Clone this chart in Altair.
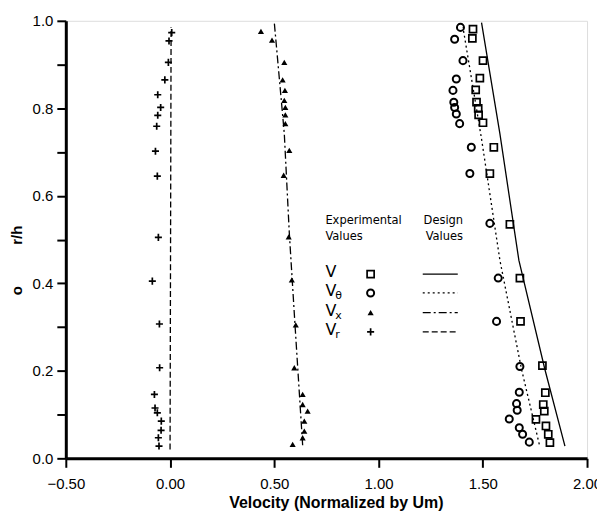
import altair as alt
import pandas as pd

# ---- Experimental values (velocity, r/h) ----
vr_v = [0.008, -0.005, -0.008, -0.025, -0.059, -0.045, -0.059, -0.064, -0.070, -0.061, -0.056,
        -0.085, -0.051, -0.050, -0.075, -0.072, -0.061, -0.042, -0.043, -0.056, -0.053]
vr_r = [0.973, 0.954, 0.905, 0.865, 0.831, 0.802, 0.784, 0.759, 0.702, 0.645, 0.505,
        0.405, 0.307, 0.207, 0.146, 0.115, 0.104, 0.085, 0.064, 0.047, 0.028]

vx_v = [0.436, 0.489, 0.548, 0.540, 0.551, 0.548, 0.553, 0.553, 0.553, 0.572, 0.545, 0.569,
        0.584, 0.603, 0.596, 0.636, 0.636, 0.660, 0.644, 0.644, 0.636, 0.588]
vx_r = [0.976, 0.956, 0.905, 0.865, 0.841, 0.818, 0.802, 0.785, 0.765, 0.704, 0.647, 0.506,
        0.408, 0.305, 0.207, 0.146, 0.123, 0.108, 0.085, 0.062, 0.047, 0.032]

vt_v = [1.393, 1.365, 1.405, 1.373, 1.357, 1.361, 1.365, 1.373, 1.389, 1.445, 1.438, 1.534,
        1.574, 1.566, 1.678, 1.675, 1.662, 1.665, 1.627, 1.675, 1.691, 1.723]
vt_r = [0.985, 0.958, 0.909, 0.867, 0.841, 0.814, 0.802, 0.787, 0.765, 0.711, 0.651, 0.537,
        0.412, 0.313, 0.210, 0.151, 0.125, 0.110, 0.090, 0.070, 0.055, 0.037]

v_v = [1.453, 1.450, 1.501, 1.486, 1.466, 1.470, 1.478, 1.480, 1.501, 1.553, 1.534, 1.630,
       1.678, 1.681, 1.786, 1.800, 1.790, 1.795, 1.755, 1.803, 1.814, 1.822]
v_r = [0.981, 0.960, 0.909, 0.869, 0.842, 0.814, 0.800, 0.785, 0.767, 0.711, 0.651, 0.535,
       0.412, 0.313, 0.212, 0.150, 0.123, 0.108, 0.089, 0.074, 0.055, 0.036]

# ---- Design values (lines) ----
dv_v = [1.494, 1.582, 1.673, 1.798, 1.894]
dv_r = [0.996, 0.742, 0.453, 0.203, 0.028]
dt_v = [1.405, 1.495, 1.582, 1.686, 1.771]
dt_r = [0.985, 0.727, 0.453, 0.203, 0.032]
dx_v = [0.500, 0.548, 0.572, 0.600, 0.636]
dx_r = [0.996, 0.742, 0.515, 0.300, 0.030]
dr_v = [0.005, 0.0]
dr_r = [0.985, 0.020]

# ---- Legend content (placed in data units) ----
leg_names = ["V", "V", "V", "V"]
leg_subs = ["", "θ", "x", "r"]
leg_rows = [0.421, 0.378, 0.333, 0.289]
leg_head_x = [0.745, 0.745, 1.216, 1.226]
leg_head_r = [0.542, 0.506, 0.542, 0.506]
leg_head_t = ["Experimental", "Values", "Design", "Values"]
leg_name_x = 0.745
leg_sym_x = 0.962
leg_line_x = [1.212, 1.380]

x_ticks = [-0.5, 0.0, 0.5, 1.0, 1.5, 2.0]
y_ticks = [0.0, 0.1, 0.2, 0.3, 0.4, 0.5, 0.6, 0.7, 0.8, 0.9, 1.0]

FONT = "Liberation Sans"
NB = "\u00a0"

xs = alt.Scale(domain=[-0.5, 2.0], nice=False, zero=False)
ys = alt.Scale(domain=[0.0, 1.0], nice=False, zero=False)

xax = alt.Axis(values=x_ticks, format=".2f", title="Velocity (Normalized by Um)",
               grid=False, labelFont=FONT, labelFontSize=15, labelColor="black",
               tickSize=9, tickWidth=2, tickColor="black", domainWidth=3, domainColor="black",
               labelPadding=9, titleFont=FONT, titleFontSize=16, titleFontWeight="bold",
               titleColor="black", titlePadding=3, titleX=271, labelFlush=False)
yax = alt.Axis(values=y_ticks, labelExpr="round(datum.value*10) % 2 == 0 ? format(datum.value, '.1f') : ''",
               title="o" + NB * 10 + "r/h", grid=False, labelFont=FONT, labelFontSize=15,
               labelColor="black", tickSize=9, tickWidth=2, tickColor="black", domainWidth=3,
               domainColor="black", labelPadding=4, titleFont=FONT, titleFontSize=15,
               titleFontWeight="bold", titleColor="black", titlePadding=8, titleY=240,
               labelFlush=False)


def pts(v, r, **mk):
    df = pd.DataFrame({"v": v, "r": r})
    return alt.Chart(df).mark_point(**mk).encode(
        x=alt.X("v:Q", scale=xs, axis=xax), y=alt.Y("r:Q", scale=ys, axis=yax))


def line(v, r, dash):
    df = pd.DataFrame({"v": v, "r": r})
    kw = dict(color="black", strokeWidth=1.3)
    if dash:
        kw["strokeDash"] = dash
    return alt.Chart(df).mark_line(**kw).encode(
        x=alt.X("v:Q", scale=xs, axis=xax), y=alt.Y("r:Q", scale=ys, axis=yax), order="r:Q")


PLUS = "M-1,0L1,0M0,-1L0,1"
sq = dict(shape="square", filled=False, size=50, strokeWidth=1.7, color="black", opacity=1)
ci = dict(shape="circle", filled=False, size=50, strokeWidth=2.0, color="black", opacity=1)
tr = dict(shape="triangle-up", filled=True, size=38, color="black", opacity=1)
pl = dict(shape=PLUS, filled=False, size=50, strokeWidth=1.7, color="black", opacity=1)

dashes = [None, [2, 3], [8, 3, 2, 3], [6, 3]]

layers = [
    line(dv_v, dv_r, None), line(dt_v, dt_r, dashes[1]),
    line(dx_v, dx_r, dashes[2]), line(dr_v, dr_r, dashes[3]),
    pts(v_v, v_r, **sq), pts(vt_v, vt_r, **ci), pts(vx_v, vx_r, **tr), pts(vr_v, vr_r, **pl),
]

# Legend
hdr = pd.DataFrame({"v": leg_head_x, "r": leg_head_r, "t": leg_head_t})
layers.append(alt.Chart(hdr).mark_text(align="left", baseline="middle", font="DejaVu Sans",
                                       fontSize=11.5, color="black").encode(
    x=alt.X("v:Q", scale=xs), y=alt.Y("r:Q", scale=ys), text="t:N"))

nm = pd.DataFrame({"v": [leg_name_x] * 4, "r": leg_rows, "t": leg_names, "s": leg_subs})
layers.append(alt.Chart(nm).mark_text(align="left", baseline="middle", font="DejaVu Sans",
                                      fontSize=16, color="black", dy=-2).encode(
    x=alt.X("v:Q", scale=xs), y=alt.Y("r:Q", scale=ys), text="t:N"))
layers.append(alt.Chart(nm).mark_text(align="left", baseline="middle", font="DejaVu Sans",
                                      fontSize=11, color="black", dx=10, dy=3).encode(
    x=alt.X("v:Q", scale=xs), y=alt.Y("r:Q", scale=ys), text="s:N"))

for i, mk in enumerate([sq, ci, tr, pl]):
    d = pd.DataFrame({"v": [leg_sym_x], "r": [leg_rows[i]]})
    layers.append(alt.Chart(d).mark_point(**mk).encode(
        x=alt.X("v:Q", scale=xs), y=alt.Y("r:Q", scale=ys)))
    d2 = pd.DataFrame({"v": leg_line_x, "r": [leg_rows[i]] * 2})
    kw = dict(color="black", strokeWidth=1.3)
    if dashes[i]:
        kw["strokeDash"] = dashes[i]
    layers.append(alt.Chart(d2).mark_line(**kw).encode(
        x=alt.X("v:Q", scale=xs), y=alt.Y("r:Q", scale=ys)))

chart = alt.layer(*layers).properties(
    width=523, height=439,
    autosize=alt.AutoSizeParams(type="none"),
    padding={"left": 58, "top": 12, "right": 10, "bottom": 54},
).configure_view(stroke="black", strokeWidth=2).configure(background="white")

chart.save("out.html", embed_options={"renderer": "svg", "actions": False})
